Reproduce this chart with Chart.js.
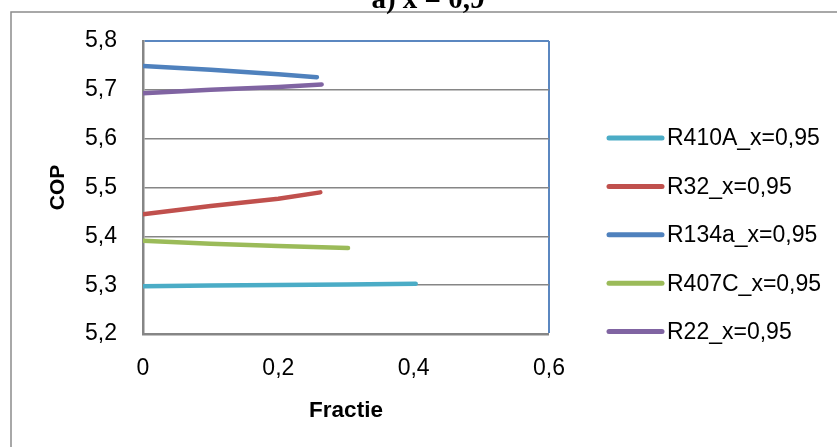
<!DOCTYPE html>
<html>
<head>
<meta charset="utf-8">
<script src="https://cdn.jsdelivr.net/npm/chart.js@4.4.1/dist/chart.umd.min.js"></script>
<style>
  html, body { margin: 0; padding: 0; background: #ffffff; }
  #wrap { width: 837px; height: 447px; position: relative; }
</style>
</head>
<body>
<div id="wrap"><canvas id="c" width="837" height="447"></canvas></div>
<script>
// ---- data ----
const seriesNames = ['R410A_x=0,95', 'R32_x=0,95', 'R134a_x=0,95', 'R407C_x=0,95', 'R22_x=0,95'];
const seriesColors = ['#4bacc6', '#c0504d', '#4f81bd', '#9bbb59', '#8064a2'];

const r410aX = [0, 0.1, 0.2, 0.3, 0.403];
const r410aY = [5.298, 5.2995, 5.3005, 5.3015, 5.303];

const r32X = [0, 0.1, 0.2, 0.262];
const r32Y = [5.445, 5.462, 5.477, 5.490];

const r134aX = [0, 0.1, 0.2, 0.257];
const r134aY = [5.749, 5.741, 5.732, 5.726];

const r407cX = [0, 0.1, 0.2, 0.303];
const r407cY = [5.391, 5.385, 5.380, 5.376];

const r22X = [0, 0.1, 0.2, 0.264];
const r22Y = [5.693, 5.700, 5.706, 5.711];

const xTickLabels = ['0', '0,2', '0,4', '0,6'];
const yTickLabels = ['5,2', '5,3', '5,4', '5,5', '5,6', '5,7', '5,8'];

const chartTitle = 'a) x = 0,9';
const xTitle = 'Fractie';
const yTitle = 'COP';

// ---- build ----
function pts(xs, ys) { return xs.map((x, i) => ({ x: x, y: ys[i] })); }
const allX = [r410aX, r32X, r134aX, r407cX, r22X];
const allY = [r410aY, r32Y, r134aY, r407cY, r22Y];

const datasets = seriesNames.map((name, i) => ({
  label: name,
  data: pts(allX[i], allY[i]),
  borderColor: seriesColors[i],
  backgroundColor: seriesColors[i],
  borderWidth: 4.5,
  borderCapStyle: 'round',
  borderJoinStyle: 'round',
  pointRadius: 0,
  pointHoverRadius: 0,
  tension: 0,
  fill: false
}));

const GRAY = '#868686';
const BLUE = '#5b87c0';

const bgPlugin = {
  id: 'bg',
  beforeDraw(chart) {
    const ctx = chart.ctx;
    ctx.save();
    ctx.fillStyle = '#ffffff';
    ctx.fillRect(0, 0, chart.width, chart.height);
    // outer chart border (extends beyond the canvas to the right and bottom)
    ctx.strokeStyle = '#8c8c8c';
    ctx.lineWidth = 1.5;
    ctx.strokeRect(11, 12, chart.width + 20, chart.height + 20);
    ctx.restore();
  },
  afterDraw(chart) {
    const ctx = chart.ctx;
    ctx.save();
    // title (mostly cut off at the top)
    ctx.fillStyle = '#000000';
    ctx.font = 'bold 29px "Liberation Serif", "DejaVu Serif", serif';
    ctx.textAlign = 'center';
    ctx.textBaseline = 'alphabetic';
    ctx.fillText(chartTitle, 428, 8);
    // legend
    const ds = chart.data.datasets;
    const x0 = 609, x1 = 662, tx = 667;
    const yStart = 138, step = 48.4;
    ctx.font = '23px "Liberation Sans", Arial, sans-serif';
    ctx.textAlign = 'left';
    ctx.textBaseline = 'middle';
    ds.forEach((d, i) => {
      const y = yStart + i * step;
      ctx.strokeStyle = d.borderColor;
      ctx.lineWidth = 5;
      ctx.lineCap = 'round';
      ctx.beginPath();
      ctx.moveTo(x0, y);
      ctx.lineTo(x1, y);
      ctx.stroke();
      ctx.fillStyle = '#000000';
      ctx.fillText(d.label, tx, y + 1);
    });
    ctx.restore();
  }
};

new Chart(document.getElementById('c'), {
  type: 'line',
  data: { datasets: datasets },
  options: {
    responsive: false,
    animation: false,
    devicePixelRatio: 1,
    layout: { padding: { left: 0, right: 288, top: 41, bottom: 0 } },
    plugins: {
      legend: { display: false },
      title: { display: false },
      tooltip: { enabled: false }
    },
    scales: {
      x: {
        type: 'linear',
        min: 0,
        max: 0.6,
        ticks: {
          stepSize: 0.2,
          padding: 21,
          color: '#000000',
          font: { family: '"Liberation Sans", Arial, sans-serif', size: 23 },
          maxRotation: 0,
          autoSkip: false,
          callback: (v, i) => xTickLabels[i]
        },
        grid: {
          drawTicks: false,
          lineWidth: (c) => (c.index === xTickLabels.length - 1 ? 2 : 0),
          color: (c) => (c.index === xTickLabels.length - 1 ? BLUE : 'rgba(0,0,0,0)')
        },
        border: { display: true, color: GRAY, width: 2.5 },
        title: {
          display: true,
          text: xTitle,
          color: '#000000',
          font: { family: '"Liberation Sans", Arial, sans-serif', size: 22.5, weight: 'bold' },
          padding: { top: 0, bottom: 23 }
        },
        afterFit(scale) { scale.height = 113; }
      },
      y: {
        type: 'linear',
        min: 5.2,
        max: 5.8,
        ticks: {
          stepSize: 0.1,
          padding: 26,
          color: '#000000',
          font: { family: '"Liberation Sans", Arial, sans-serif', size: 23 },
          autoSkip: false,
          callback: (v, i) => yTickLabels[i]
        },
        grid: {
          drawTicks: false,
          lineWidth: (c) => (c.index === yTickLabels.length - 1 ? 2 : 1.6),
          color: (c) => (c.index === yTickLabels.length - 1 ? BLUE : GRAY)
        },
        border: { display: true, color: GRAY, width: 2.5 },
        title: {
          display: true,
          text: yTitle,
          color: '#000000',
          font: { family: '"Liberation Sans", Arial, sans-serif', size: 21, weight: 'bold' },
          padding: { top: 46, bottom: 0 }
        },
        afterFit(scale) { scale.width = 143; }
      }
    }
  },
  plugins: [bgPlugin]
});
</script>
</body>
</html>
